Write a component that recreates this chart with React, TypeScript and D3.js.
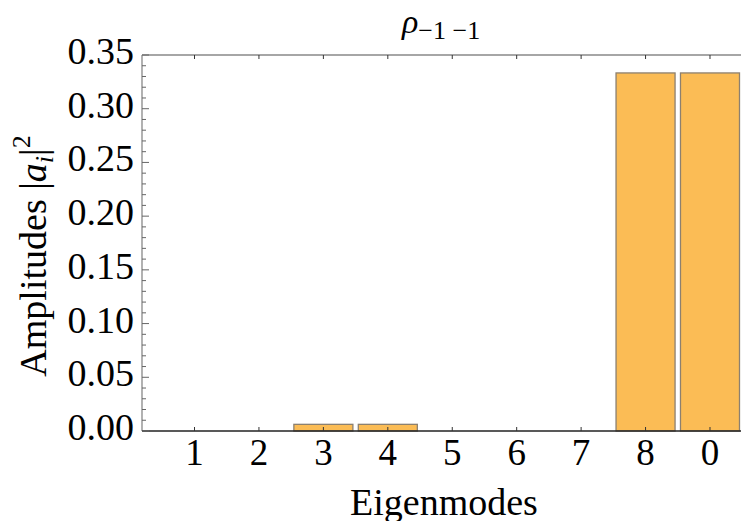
import React from "react";
import * as d3 from "d3";

const categories = ["1", "2", "3", "4", "5", "6", "7", "8", "0"];
const amplitudes = [0, 0, 0.0062, 0.0062, 0, 0, 0, 0.3333, 0.3333];
const yTicks = [0, 0.05, 0.1, 0.15, 0.2, 0.25, 0.3, 0.35];

const W = 741, H = 521;
const left = 142, right = 762.5, top = 55, bottom = 431;
const FONT = "'Liberation Serif', 'Times New Roman', serif";

export default function App() {
  const x = d3.scaleLinear().domain([0.185, 9.815]).range([left, right]);
  const y = d3.scaleLinear().domain([0, 0.35]).range([bottom, top]);
  const step = x(2) - x(1);
  const bw = step * 0.916;
  const minor = d3.range(0, 0.3501, 0.01).filter((v) => Math.abs(Math.round(v * 20) - v * 20) > 1e-6);
  const fmt = d3.format(".2f");

  return (
    <svg width={W} height={H} style={{ display: "block", position: "absolute", left: 0, top: 0 }} fontFamily={FONT}>
      <rect width={W} height={H} fill="#fff" />
      {amplitudes.map((v, i) =>
        v > 0 ? (
          <rect key={i} x={x(i + 1) - bw / 2} y={y(v)} width={bw} height={y(0) - y(v)}
            fill="#FBBC55" stroke="#8C8070" strokeWidth={1.3} />
        ) : null
      )}
      <line x1={left} x2={left} y1={top} y2={bottom} stroke="#888" strokeWidth={1.3} />
      <line x1={left} x2={right} y1={top} y2={top} stroke="#888" strokeWidth={1.3} />
      <line x1={left} x2={right} y1={bottom} y2={bottom} stroke="#222" strokeWidth={1.3} />
      {categories.map((c, i) => (
        <g key={c}>
          <line x1={x(i + 1)} x2={x(i + 1)} y1={bottom} y2={bottom - 4} stroke="#333" />
          <line x1={x(i + 1)} x2={x(i + 1)} y1={top} y2={top + 4} stroke="#333" />
          <text x={x(i + 1)} y={465} textAnchor="middle" fontSize={37} fill="#000">{c}</text>
        </g>
      ))}
      {yTicks.map((t) => (
        <g key={t}>
          <line x1={left} x2={left + 7} y1={y(t)} y2={y(t)} stroke="#666" />
          <text x={134} y={y(t) + 9} textAnchor="end" fontSize={38} fill="#000">{fmt(t)}</text>
        </g>
      ))}
      {minor.map((t, i) => (
        <line key={i} x1={left} x2={left + 4} y1={y(t)} y2={y(t)} stroke="#666" />
      ))}
      <text x={402} y={33} fontSize={34} fill="#000">
        <tspan fontStyle="italic">ρ</tspan>
        <tspan fontSize={26} dy={6}>−1 −1</tspan>
      </text>
      <text x={444} y={515} textAnchor="middle" fontSize={38} fill="#000">Eigenmodes</text>
      <text transform="translate(46,256) rotate(-90)" textAnchor="middle" fontSize={38} fill="#000">
        Amplitudes |<tspan fontStyle="italic">a</tspan><tspan fontStyle="italic" fontSize={26} dy={7}>i</tspan><tspan dy={-7}>|</tspan><tspan fontSize={26} dy={-16}>2</tspan>
      </text>
    </svg>
  );
}
